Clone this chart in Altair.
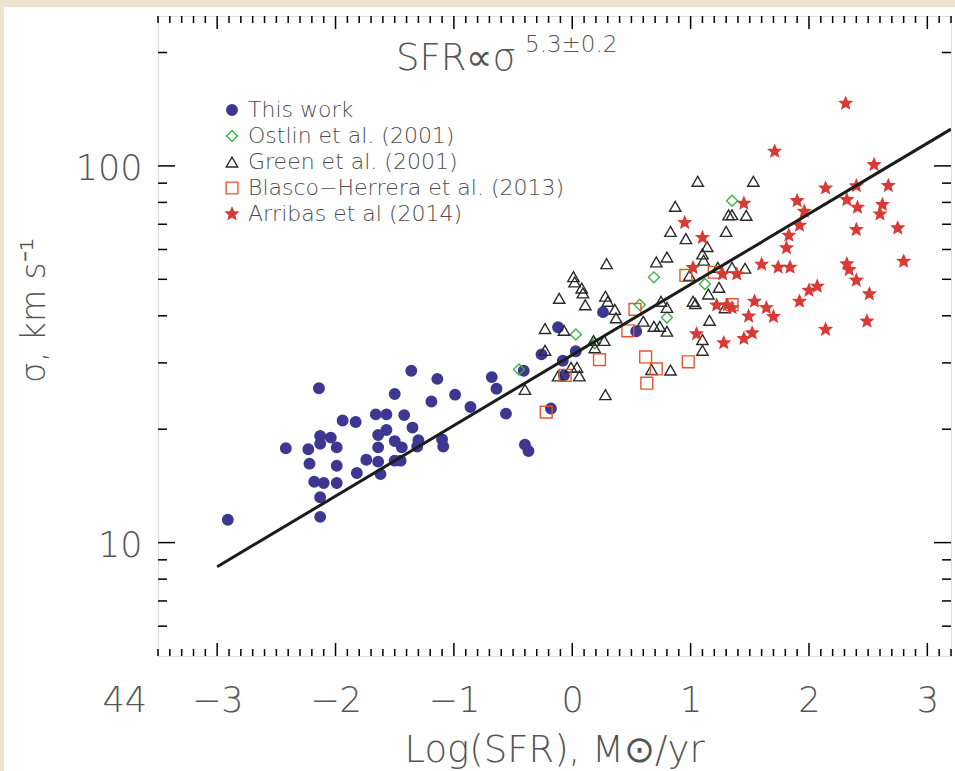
import altair as alt
import pandas as pd

# ---------------- data ----------------
blue_x = [-2.91, -2.14, -2.42, -2.23, -2.13, -2.04, -2.13, -1.99, -2.22, -1.99,
          -2.18, -2.10, -1.99, -2.13, -2.13, -1.94, -1.83, -1.82, -1.74, -1.66,
          -1.57, -1.57, -1.64, -1.64, -1.64, -1.62, -1.50, -1.44, -1.50, -1.45,
          -1.42, -1.35, -1.30, -1.31, -1.50, -1.36, -1.19, -1.14, -0.99, -0.86,
          -1.10, -1.09, -0.68, -0.64, -0.56, -0.41, -0.40, -0.37, -0.26, -0.18,
          -0.12, -0.08, 0.03, -0.07, 0.26, 0.54]
blue_s = [11.5, 25.7, 17.8, 17.7, 19.2, 19.0, 18.3, 17.9, 16.2, 16.0,
          14.5, 14.4, 14.4, 13.2, 11.7, 21.1, 20.9, 15.3, 16.6, 21.9,
          21.9, 19.9, 19.3, 17.9, 16.4, 15.2, 18.6, 17.9, 16.5, 16.5,
          21.8, 20.2, 18.7, 18.0, 24.8, 28.6, 23.7, 27.2, 24.7, 22.9,
          18.8, 18.0, 27.5, 25.6, 22.0, 28.6, 18.2, 17.5, 31.6, 22.7,
          37.3, 30.4, 32.2, 27.8, 40.9, 36.4]

ostlin_x = [-0.45, 0.03, 0.19, 0.57, 0.69, 0.80, 1.12, 1.35]
ostlin_s = [28.8, 35.7, 33.8, 42.8, 50.6, 39.6, 48.6, 80.8]

green_x = [1.06, 1.53, 0.87, 1.32, 1.35, 1.47, 0.83, 0.96, 1.30, 0.80,
           0.71, 1.14, 1.10, 1.11, 1.35, 1.46, 1.24, 1.15, 1.02, 1.29,
           0.75, 0.80, 1.16, 0.60, 0.69, 0.74, 0.80, 1.10, 1.10, 0.67,
           0.83, 0.29, 0.01, 0.02, 0.08, 0.09, -0.11, 0.11, 0.28, 0.30,
           0.36, 0.37, -0.23, -0.07, -0.23, -0.40, -0.01, 0.04, 0.06, -0.12,
           0.18, 0.19, 0.27, 0.28, 0.99, 1.23, 1.04]
green_s = [91.0, 91.0, 78.1, 74.1, 74.2, 73.9, 67.0, 64.1, 67.0, 57.3,
           55.6, 61.1, 58.4, 56.2, 53.8, 53.5, 47.6, 45.7, 43.7, 42.0,
           43.7, 42.1, 38.9, 38.7, 37.5, 37.5, 36.4, 34.6, 32.4, 28.8,
           28.7, 55.0, 50.8, 49.2, 47.4, 46.0, 44.5, 42.8, 45.1, 43.7,
           41.6, 39.5, 37.0, 36.6, 32.4, 25.5, 29.2, 29.2, 27.7, 27.7,
           34.4, 32.9, 34.4, 24.7, 51.2, 53.8, 43.1]

blasco_x = [-0.22, -0.06, 0.23, 0.47, 0.53, 0.62, 0.71, 0.63, 0.96, 0.98, 1.20, 1.35]
blasco_s = [22.2, 27.8, 30.6, 36.5, 41.6, 31.1, 28.9, 26.5, 51.2, 30.2, 52.2, 42.8]

arribas_x = [1.71, 2.31, 2.55, 2.67, 2.40, 2.14, 1.90, 1.96, 2.32, 2.41,
             2.62, 2.60, 1.92, 1.83, 1.81, 2.40, 2.75, 1.60, 1.74, 1.84,
             2.32, 2.34, 2.40, 2.80, 2.00, 2.07, 1.92, 2.51, 1.64, 1.70,
             2.49, 2.14, 1.45, 0.95, 1.10, 1.02, 1.27, 1.39, 1.22, 1.31,
             1.35, 1.54, 1.49, 1.52, 1.45, 1.05, 1.28]
arribas_s = [109.3, 146.5, 100.7, 88.6, 88.5, 87.3, 80.8, 75.7, 81.3, 77.6,
             78.9, 74.5, 69.5, 65.4, 60.6, 67.7, 68.4, 54.8, 53.8, 53.8,
             54.9, 53.0, 49.7, 55.8, 46.7, 47.9, 43.7, 45.7, 42.0, 39.8,
             38.7, 36.8, 79.5, 70.7, 64.5, 53.7, 51.6, 51.6, 42.7, 42.7,
             42.0, 43.7, 39.9, 36.0, 34.8, 35.8, 33.9]

fit_x = [-3.0, 3.2]
fit_s = [8.63, 125.2]

series_names = ["This work", "Ostlin et al. (2001)", "Green et al. (2001)",
                "Blasco\u2212Herrera et al. (2013)", "Arribas et al (2014)"]

x_major = [-3, -2, -1, 0, 1, 2, 3]
x_minor = [round(-3.5 + 0.1 * k, 1) for k in range(68) if (k % 10) != 5]
y_major = [10, 100]
y_minor = [6, 7, 8, 9, 20, 30, 40, 50, 60, 70, 80, 90, 200]

# ---------------- styling ----------------
W, H = 793, 640
FONT = "DejaVu Sans"
TXT = "#555555"
STAR = ("M0,-1L0.2645,-0.364L0.951,-0.309L0.428,0.139L0.588,0.809L0,0.45"
        "L-0.588,0.809L-0.428,0.139L-0.951,-0.309L-0.2645,-0.364Z")

frames = []
for name, xs, ss in zip(series_names,
                        [blue_x, ostlin_x, green_x, blasco_x, arribas_x],
                        [blue_s, ostlin_s, green_s, blasco_s, arribas_s]):
    frames.append(pd.DataFrame({"x": xs, "sigma": ss, "series": name}))
df = pd.concat(frames, ignore_index=True)

xscale = alt.Scale(domain=[-3.5, 3.2], nice=False, zero=False)
yscale = alt.Scale(type="log", domain=[5, 250], nice=False)

legend = alt.Legend(title=None, orient="none", legendX=63, legendY=83,
                    labelFontSize=22, labelFont=FONT, labelColor="#4d4d4d",
                    labelFontWeight=300, labelLimit=0,
                    symbolStrokeWidth=1.4, rowPadding=4,
                    labelOffset=5, padding=0)

xaxis = alt.Axis(values=x_major, format="d", ticks=False, domain=False, grid=False,
                 labelFontSize=35, labelPadding=27, labelColor=TXT, labelFont=FONT,
                 labelFontWeight=300,
                 title="Log(SFR), M\u2299/yr", titleX=396, titleY=94,
                 titleBaseline="middle", titleAlign="center", titleFontSize=37,
                 titleFontWeight=300, titleColor=TXT, titleFont=FONT)
yaxis = alt.Axis(values=y_major, format="d", ticks=False, domain=False, grid=False,
                 labelFontSize=35, labelPadding=16, labelOffset=3, labelColor=TXT,
                 labelFont=FONT, labelFontWeight=300,
                 title="\u03c3, km s\u207b\u00b9", titleX=-124, titleY=294,
                 titleAngle=270, titleAlign="center", titleBaseline="middle",
                 titleFontSize=33, titleFontWeight=300, titleColor=TXT,
                 titleFont=FONT)

one = pd.DataFrame({"a": [0]})
beige = "#efe3cf"
band_top = alt.Chart(one).mark_rect(color=beige).encode(
    x=alt.value(-158), x2=alt.value(W + 4), y=alt.value(-16), y2=alt.value(-9))
band_left = alt.Chart(one).mark_rect(color=beige).encode(
    x=alt.value(-158), x2=alt.value(-154), y=alt.value(-16), y2=alt.value(H + 115))

def ticks_y(vals, length):
    d = pd.DataFrame({"v": vals})
    left = alt.Chart(d).mark_rule(color="black", strokeWidth=1.5).encode(
        y=alt.Y("v:Q", scale=yscale), x=alt.value(0), x2=alt.value(length))
    right = alt.Chart(d).mark_rule(color="black", strokeWidth=1.5).encode(
        y=alt.Y("v:Q", scale=yscale), x=alt.value(W - length), x2=alt.value(W))
    return [left, right]

def ticks_x(vals, length):
    d = pd.DataFrame({"v": vals})
    bottom = alt.Chart(d).mark_rule(color="black", strokeWidth=1.5).encode(
        x=alt.X("v:Q", scale=xscale), y=alt.value(H), y2=alt.value(H - length))
    top = alt.Chart(d).mark_rule(color="black", strokeWidth=1.5).encode(
        x=alt.X("v:Q", scale=xscale), y=alt.value(0), y2=alt.value(length))
    return [bottom, top]

tick_layers = (ticks_y(y_major, 17) + ticks_y(y_minor, 9)
               + ticks_x(x_major, 13) + ticks_x(x_minor, 7))

points = alt.Chart(df).mark_point(opacity=1, strokeWidth=1.4).encode(
    x=alt.X("x:Q", scale=xscale, axis=xaxis),
    y=alt.Y("sigma:Q", scale=yscale, axis=yaxis),
    shape=alt.Shape("series:N", legend=legend,
                    scale=alt.Scale(domain=series_names,
                                    range=["circle", "diamond", "triangle-up", "square", STAR])),
    stroke=alt.Stroke("series:N", legend=legend,
                      scale=alt.Scale(domain=series_names,
                                      range=["#3e3792", "#3cb54a", "#2b2b2b", "#e4572e", "#d93a36"])),
    fill=alt.Fill("series:N", legend=legend,
                  scale=alt.Scale(domain=series_names,
                                  range=["#3e3792", "transparent", "transparent", "transparent", "#d93a36"])),
    size=alt.Size("series:N", legend=legend,
                  scale=alt.Scale(domain=series_names, range=[110, 150, 175, 170, 165])),
)

fit = alt.Chart(pd.DataFrame({"x": fit_x, "sigma": fit_s})).mark_line(
    color="#1c1c1c", strokeWidth=3, clip=True).encode(
    x=alt.X("x:Q", scale=xscale),
    y=alt.Y("sigma:Q", scale=yscale))

title_main = alt.Chart(pd.DataFrame({"t": ["SFR\u221d\u03c3"]})).mark_text(
    align="left", baseline="alphabetic", fontSize=37, font=FONT, fontWeight=300,
    color=TXT).encode(text="t:N", x=alt.value(238), y=alt.value(54))
title_sup = alt.Chart(pd.DataFrame({"t": ["5.3\u00b10.2"]})).mark_text(
    align="left", baseline="alphabetic", fontSize=23, font=FONT, fontWeight=300,
    color=TXT).encode(text="t:N", x=alt.value(367), y=alt.value(36))
stray = alt.Chart(pd.DataFrame({"t": ["44"]})).mark_text(
    align="right", baseline="alphabetic", fontSize=35, font=FONT, fontWeight=300,
    color=TXT).encode(text="t:N", x=alt.value(-11), y=alt.value(696))

chart = alt.layer(
    points, band_top, band_left, fit, *tick_layers, title_main, title_sup, stray
).properties(
    width=W, height=H,
    autosize=alt.AutoSizeParams(type="none"),
    padding={"left": 158, "top": 16, "right": 4, "bottom": 115},
    background="white",
).configure_view(stroke="black", strokeWidth=1.5).configure(font=FONT)

chart.save("out.html", embed_options={"renderer": "svg", "actions": False})
